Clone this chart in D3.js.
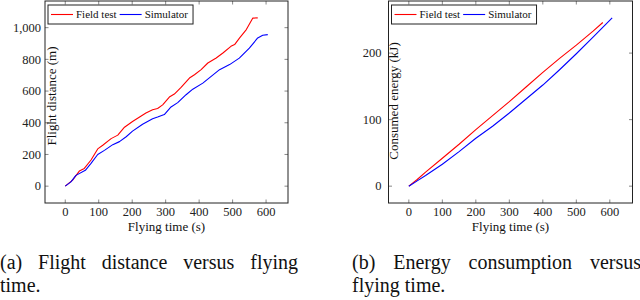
<!DOCTYPE html>
<html>
<head>
<meta charset="utf-8">
<script src="https://cdn.jsdelivr.net/npm/d3@7"></script>
<style>
  html, body { margin: 0; padding: 0; background: #fff; }
  svg { display: block; }
  svg text { font-family: "Liberation Serif", "DejaVu Serif", serif; }
</style>
</head>
<body>
<div id="chart"></div>
<script>
// ---- data: (a) flight distance, (b) consumed energy ----
const distFieldTime = [0, 22, 42, 57, 77, 97, 112, 137, 157, 177, 201, 221, 241, 261, 276, 291, 311, 326, 346, 371, 386, 406, 426, 451, 471, 495, 506, 521, 541, 560, 575];
const distFieldVal  = [0, 38, 95, 112, 165, 235, 258, 300, 322, 372, 408, 435, 462, 482, 490, 513, 562, 581, 623, 682, 703, 735, 777, 809, 840, 882, 893, 936, 988, 1060, 1062];
const distSimTime = [0, 17, 32, 60, 77, 97, 117, 142, 162, 182, 201, 231, 261, 276, 296, 316, 336, 361, 381, 411, 436, 461, 491, 520, 550, 575, 590, 605];
const distSimVal  = [0, 27, 68, 100, 144, 200, 226, 262, 281, 312, 347, 391, 425, 436, 452, 500, 527, 577, 612, 650, 693, 735, 767, 808, 871, 935, 952, 956];

const energyFieldTime = [0, 25, 50, 100, 150, 200, 250, 300, 350, 400, 450, 500, 550, 579];
const energyFieldVal  = [0, 10, 21, 42, 63, 85, 106, 127, 149, 171, 192, 212, 233, 246];
const energySimTime = [0, 25, 50, 100, 150, 200, 250, 300, 350, 400, 450, 500, 550, 607];
const energySimVal  = [0, 8, 16, 33, 52, 72, 90, 110, 131, 152, 175, 199, 224, 253];

const xTicks = [0, 100, 200, 300, 400, 500, 600];
const distTicks = [0, 200, 400, 600, 800, 1000];
const energyTicks = [0, 100, 200];
const seriesNames = ["Field test", "Simulator"];
const seriesColors = ["#ff0000", "#0000ff"];

const WIDTH = 640;
const HEIGHT = 300;

const svg = d3.select("#chart").append("svg")
  .attr("width", WIDTH)
  .attr("height", HEIGHT);

function zip(xs, ys) { return xs.map((x, i) => ({ x, y: ys[i] })); }

// pgfplots style: enlarge limits by 10% of the data range
function enlarged(values) {
  const [lo, hi] = d3.extent(values);
  const pad = (hi - lo) * 0.1;
  return [lo - pad, hi + pad];
}

function drawPanel(opt) {
  const g = svg.append("g");
  const x = d3.scaleLinear()
    .domain(enlarged(opt.series.flatMap(s => s.map(d => d.x))))
    .range([opt.left, opt.right]);
  const y = d3.scaleLinear()
    .domain(enlarged(opt.series.flatMap(s => s.map(d => d.y))))
    .range([opt.bottom, opt.top]);

  // inward ticks on all four sides
  const tickLen = 3.5;
  const ticks = g.append("g").attr("stroke", "#555").attr("stroke-width", 0.7);
  opt.xTicks.forEach(t => {
    ticks.append("line").attr("x1", x(t)).attr("x2", x(t)).attr("y1", opt.bottom).attr("y2", opt.bottom - tickLen);
    ticks.append("line").attr("x1", x(t)).attr("x2", x(t)).attr("y1", opt.top).attr("y2", opt.top + tickLen);
  });
  opt.yTicks.forEach(t => {
    ticks.append("line").attr("y1", y(t)).attr("y2", y(t)).attr("x1", opt.left).attr("x2", opt.left + tickLen);
    ticks.append("line").attr("y1", y(t)).attr("y2", y(t)).attr("x1", opt.right).attr("x2", opt.right - tickLen);
  });

  // tick labels
  g.append("g").selectAll("text")
    .data(opt.xTicks)
    .enter().append("text")
    .attr("x", d => x(d))
    .attr("y", 216)
    .attr("text-anchor", "middle")
    .attr("font-size", 12.5)
    .attr("fill", "#222")
    .text(d => d3.format(",")(d));

  g.append("g").selectAll("text")
    .data(opt.yTicks)
    .enter().append("text")
    .attr("x", opt.left - opt.yLabelGap)
    .attr("y", d => y(d) + 4.2)
    .attr("text-anchor", "end")
    .attr("font-size", 12.5)
    .attr("fill", "#222")
    .text(d => d3.format(",")(d));

  // lines
  const line = d3.line().x(d => x(d.x)).y(d => y(d.y));
  g.append("g").selectAll("path")
    .data(opt.series)
    .enter().append("path")
    .attr("d", line)
    .attr("fill", "none")
    .attr("stroke", (d, i) => seriesColors[i])
    .attr("stroke-width", 1.1)
    .attr("stroke-linejoin", "round");

  // frame
  g.append("rect")
    .attr("x", opt.left)
    .attr("y", opt.top)
    .attr("width", opt.right - opt.left)
    .attr("height", opt.bottom - opt.top)
    .attr("fill", "none")
    .attr("stroke", "#222")
    .attr("stroke-width", 1);

  // axis titles
  g.append("text")
    .attr("x", (opt.left + opt.right) / 2)
    .attr("y", 231)
    .attr("text-anchor", "middle")
    .attr("font-size", 13)
    .attr("fill", "#111")
    .text("Flying time (s)");

  g.append("text")
    .attr("transform", `translate(${opt.yTitleX},${opt.yTitleY}) rotate(-90)`)
    .attr("text-anchor", "middle")
    .attr("font-size", 13)
    .attr("fill", "#111")
    .text(opt.yTitle);

  // legend
  const leg = g.append("g");
  const lx = opt.left + 3, ly = opt.top + 4, lh = 19;
  const box = leg.append("rect")
    .attr("x", lx).attr("y", ly).attr("height", lh)
    .attr("fill", "#fff").attr("stroke", "#222").attr("stroke-width", 1);
  let cx = lx + 3;
  seriesNames.forEach((name, i) => {
    leg.append("line")
      .attr("x1", cx).attr("x2", cx + 22)
      .attr("y1", ly + lh / 2).attr("y2", ly + lh / 2)
      .attr("stroke", seriesColors[i]).attr("stroke-width", 1.1);
    const t = leg.append("text")
      .attr("x", cx + 25)
      .attr("y", ly + lh / 2 + 3.5)
      .attr("font-size", 11)
      .attr("fill", "#111")
      .text(name);
    cx = cx + 25 + t.node().getComputedTextLength() + 3;
  });
  box.attr("width", cx - lx + 2);
}

drawPanel({
  left: 45, right: 288, top: 1, bottom: 203,
  series: [zip(distFieldTime, distFieldVal), zip(distSimTime, distSimVal)],
  xTicks: xTicks, yTicks: distTicks, yLabelGap: 4,
  yTitle: "Flight distance (m)", yTitleX: 56, yTitleY: 96
});

drawPanel({
  left: 388.5, right: 632.5, top: 1, bottom: 203,
  series: [zip(energyFieldTime, energyFieldVal), zip(energySimTime, energySimVal)],
  xTicks: xTicks, yTicks: energyTicks, yLabelGap: 7,
  yTitle: "Consumed energy (kJ)", yTitleX: 398, yTitleY: 101
});

// captions: first line justified across the column, last line set naturally
const CAPTION_SIZE = 20;
function captionLine(text, x0, x1, baseline, justify) {
  const g = svg.append("g");
  if (!justify) {
    g.append("text").attr("x", x0).attr("y", baseline)
      .attr("font-size", CAPTION_SIZE).attr("fill", "#111").text(text);
    return;
  }
  const words = text.split(" ");
  const nodes = words.map(w => g.append("text")
    .attr("y", baseline)
    .attr("font-size", CAPTION_SIZE)
    .attr("fill", "#111")
    .text(w));
  const widths = nodes.map(n => n.node().getComputedTextLength());
  const gap = (x1 - x0 - d3.sum(widths)) / (words.length - 1);
  let cx = x0;
  nodes.forEach((n, i) => { n.attr("x", cx); cx += widths[i] + gap; });
}

captionLine("(a) Flight distance versus flying", 0, 298, 269, true);
captionLine("time.", 0, 0, 292, false);
captionLine("(b) Energy consumption versus", 352, 641, 269, true);
captionLine("flying time.", 352, 0, 292, false);
</script>
</body>
</html>
